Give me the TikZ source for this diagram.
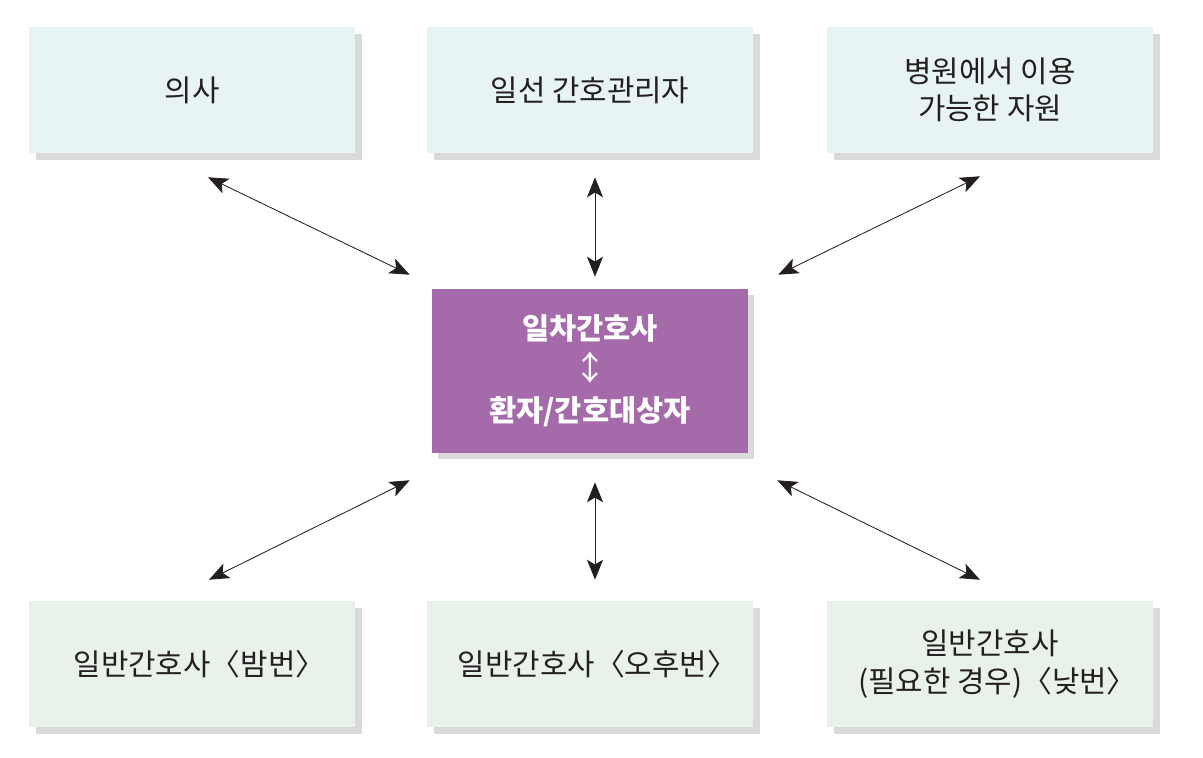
\documentclass[tikz,border=0pt]{standalone}
\usepackage{fontspec}
\setmainfont{Noto Sans CJK KR}
\usepackage{xcolor}
\usepackage{tikz}
\usetikzlibrary{arrows.meta, positioning, shadows, calc}
\definecolor{topfill}{RGB}{232,243,243}
\definecolor{botfill}{RGB}{233,242,234}
\definecolor{hubpurple}{RGB}{165,106,170}
\definecolor{shadowgray}{RGB}{218,218,218}
\definecolor{inkdark}{RGB}{35,31,32}
\newcommand{\shiftname}[1]{〈#1〉\kern-0.5em}

\begin{document}
\begin{tikzpicture}[
    every node/.style={font=\fontsize{21.2}{26.5}\selectfont, text=inkdark},
    staff/.style={rectangle, minimum width=8.15cm, minimum height=3.15cm, align=center,
        drop shadow={shadow xshift=0.175cm, shadow yshift=-0.175cm, fill=shadowgray, opacity=1}},
    hub/.style={rectangle, minimum width=7.9cm, minimum height=4.1cm, align=center, fill=hubpurple,
        text=white, font=\bfseries\fontsize{21}{29}\selectfont,
        drop shadow={shadow xshift=0.15cm, shadow yshift=-0.15cm, fill=shadowgray, opacity=1}},
    darrow/.style={{Stealth[length=0.5cm, width=0.4cm, inset=0.12cm]}-{Stealth[length=0.5cm, width=0.4cm, inset=0.12cm]}, line width=0.6pt, draw=inkdark}
]
\useasboundingbox (0,0) rectangle (30.075,-18.925);

\node[staff, fill=topfill] (doctor) at (4.8,-2.25) {의사};
\node[staff, fill=topfill] (manager) at (14.75,-2.25) {일선 간호관리자};
\node[staff, fill=topfill] (resource) at (24.75,-2.25) {병원에서 이용\\가능한 자원};

\node[hub] (primary) at (14.75,-9.275) {일차간호사\\{\mdseries\fontsize{24}{29}\selectfont ↕}\\환자/간호대상자};

\node[staff, fill=botfill] (night) at (4.8,-16.6) {일반간호사\shiftname{밤번}};
\node[staff, fill=botfill] (evening) at (14.75,-16.6) {일반간호사\shiftname{오후번}};
\node[staff, fill=botfill] (day) at (24.75,-16.6) {일반간호사\\(필요한 경우)\shiftname{낮번}};

\draw[darrow] ([xshift=0.4cm, yshift=-0.6cm]doctor.south) -- ([xshift=-0.55cm, yshift=0.35cm]primary.north west);
\draw[darrow] ([xshift=0.125cm, yshift=-0.6cm]manager.south) -- ([xshift=0.125cm, yshift=0.3cm]primary.north);
\draw[darrow] ([xshift=-0.25cm, yshift=-0.575cm]resource.south) -- ([xshift=0.75cm, yshift=0.35cm]primary.north east);
\draw[darrow] ([xshift=-0.55cm, yshift=-0.675cm]primary.south west) -- ([xshift=0.425cm, yshift=0.525cm]night.north);
\draw[darrow] ([xshift=0.125cm, yshift=-0.725cm]primary.south) -- ([xshift=0.125cm, yshift=0.525cm]evening.north);
\draw[darrow] ([xshift=0.725cm, yshift=-0.675cm]primary.south east) -- ([xshift=-0.25cm, yshift=0.525cm]day.north);

\end{tikzpicture}
\end{document}
